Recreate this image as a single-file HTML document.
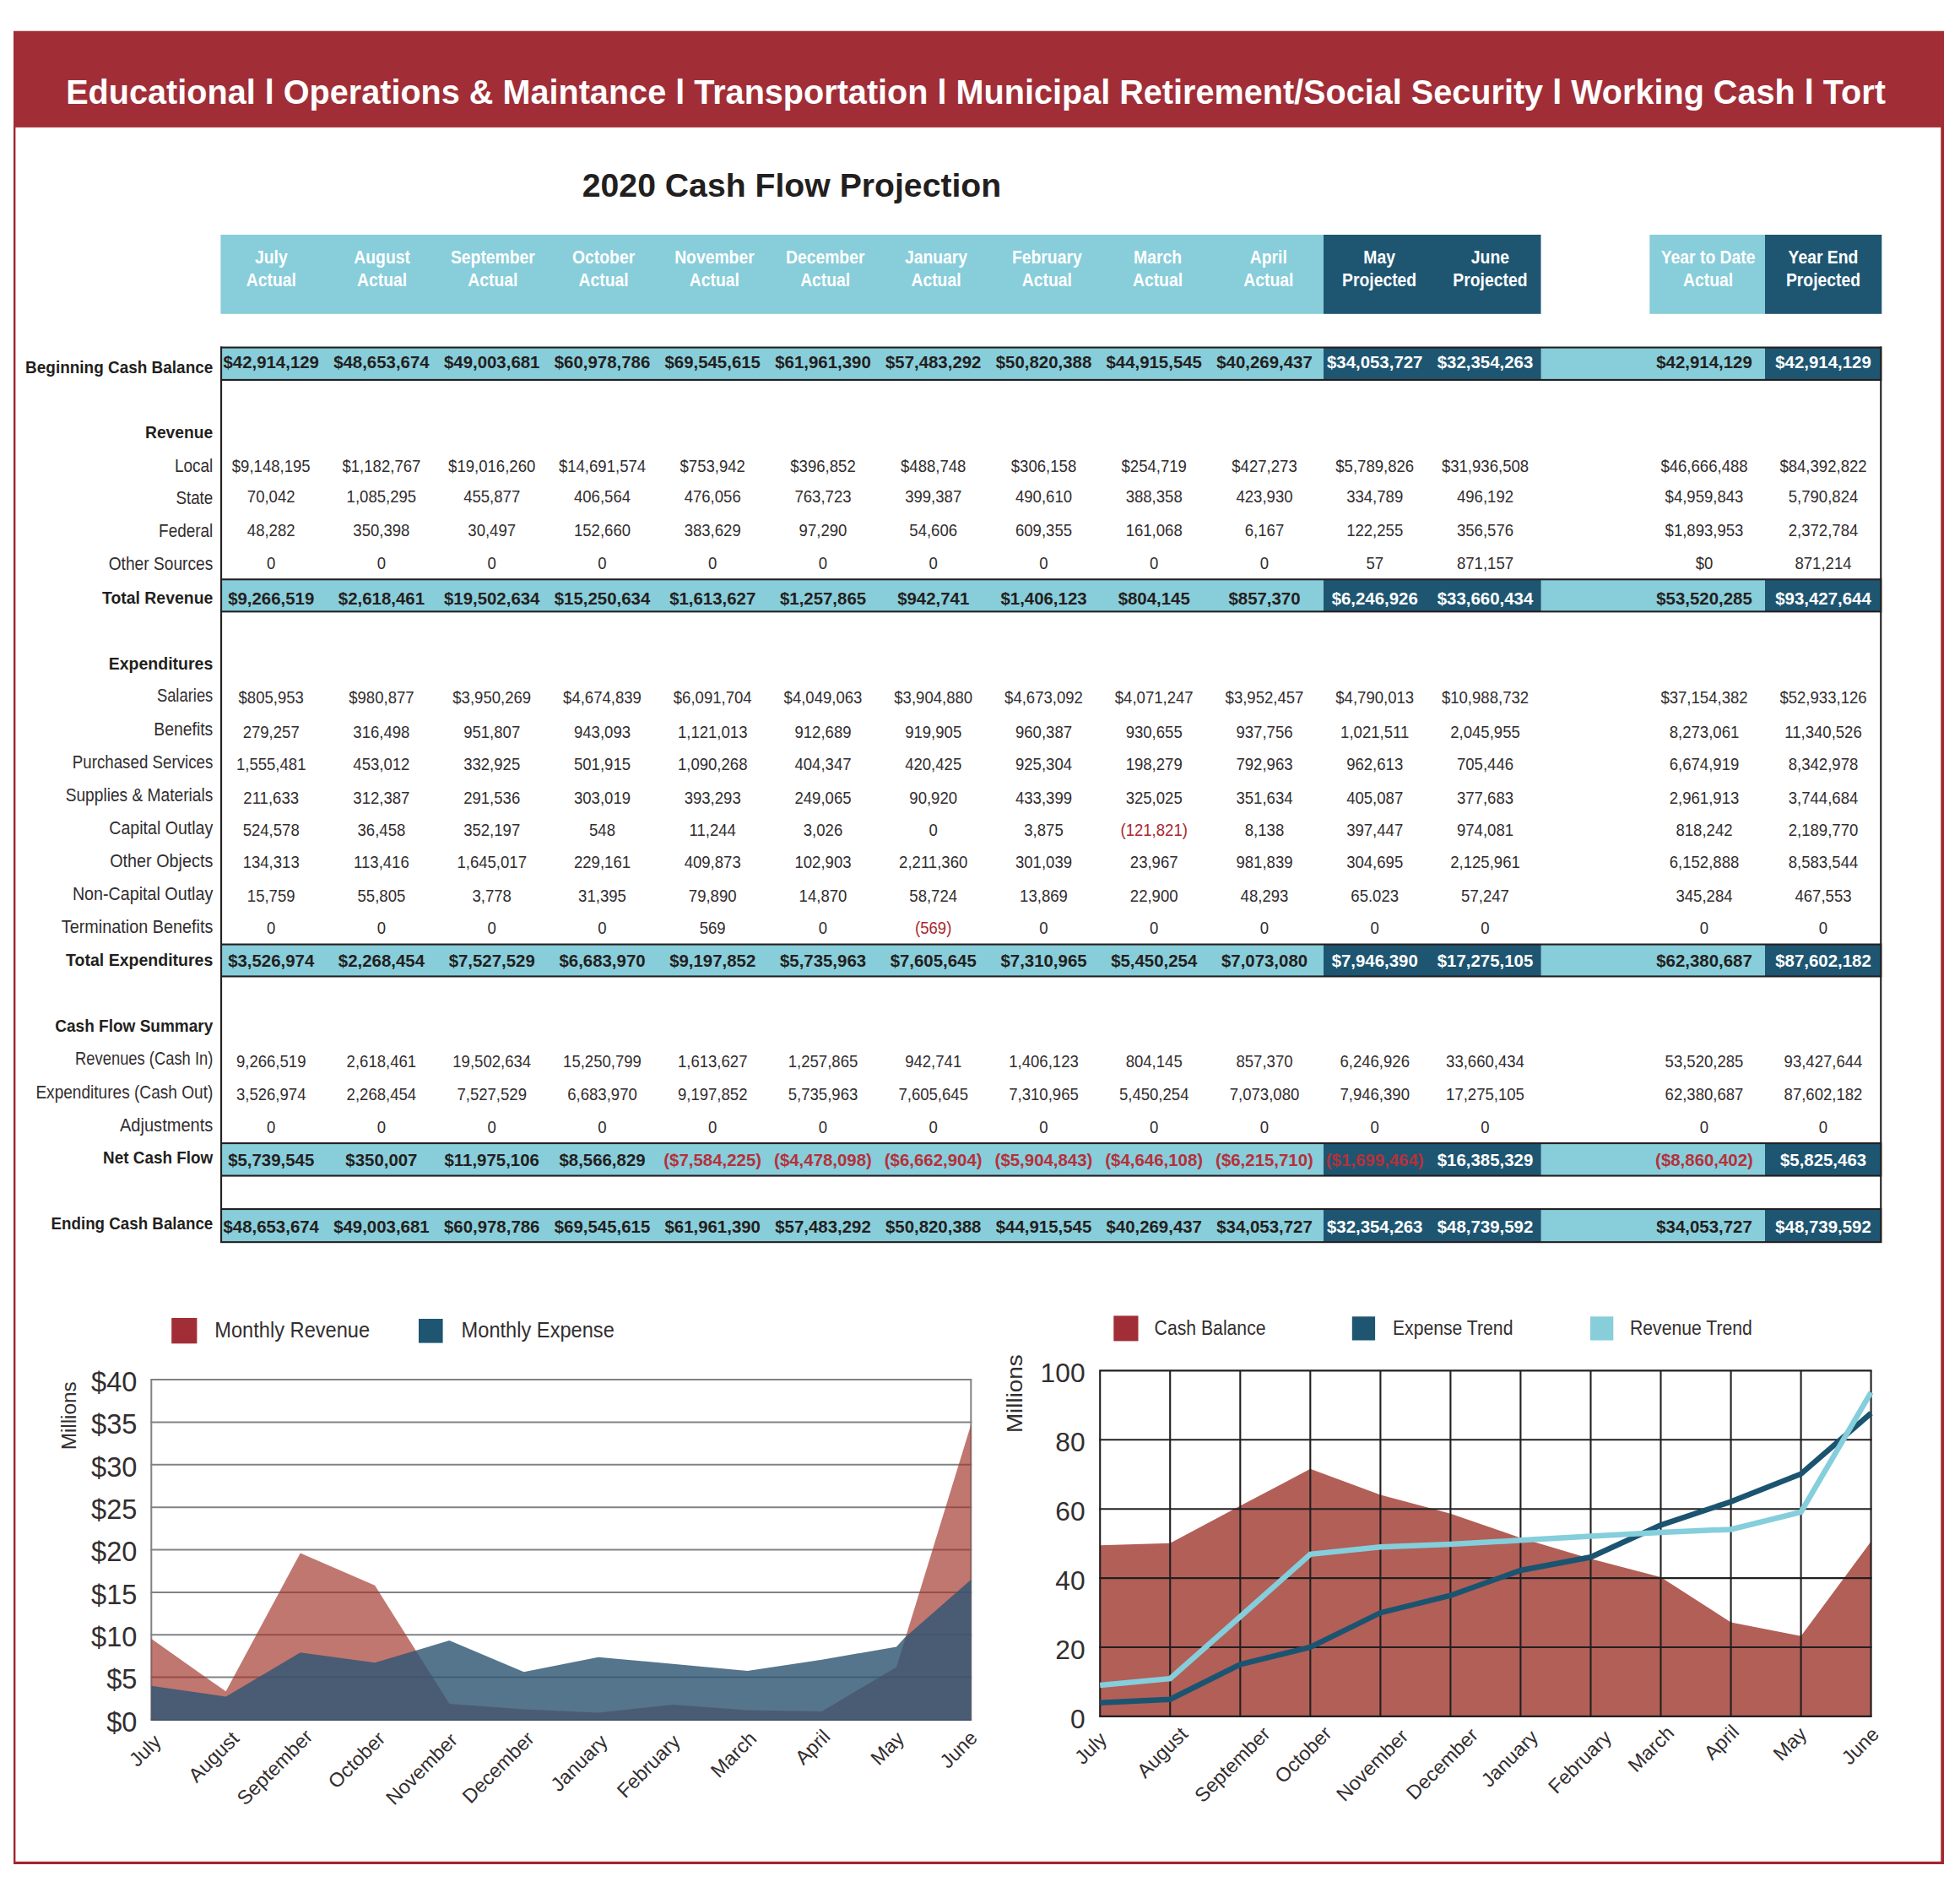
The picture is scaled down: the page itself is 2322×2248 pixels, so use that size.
<!DOCTYPE html>
<html lang="en"><head><meta charset="utf-8"><title>2020 Cash Flow Projection</title>
<style>
html,body{margin:0;padding:0;background:#fff}
body{width:2322px;height:2248px;overflow:hidden}
svg{display:block}
text{font-family:"Liberation Sans",sans-serif;fill:#231F20}
.ll,.vl,.lg1,.lg2,.y1,.y2,.mil1,.mil2,.xl,.xl2{fill:#322E2F}
.banner{font-weight:700;font-size:41.1px;fill:#fff}
.title{font-weight:700;font-size:38.2px}
.hd{font-weight:700;font-size:21.5px;fill:#fff}
.lb{font-weight:700;font-size:21.0px}
.ll{font-size:21.2px}
.vb{font-weight:700;font-size:20.1px}
.vl{font-size:20.4px}
.lg1{font-size:26.7px}
.lg2{font-size:24.4px}
.y1{font-size:33.4px}
.y2{font-size:30.5px}
.mil1{font-size:23.9px}
.mil2{font-size:26.1px}
.xl{font-size:23.5px}
.xl2{font-size:23.5px}
</style></head>
<body>
<svg width="2322" height="2248" viewBox="0 0 2322 2248">
<rect width="2322" height="2248" fill="#fff"/>
<g id="table">
<rect x="16" y="36.7" width="2287" height="114.2" fill="#A12E37"/>
<rect x="16" y="150" width="2.4" height="2058" fill="#A0282F"/>
<rect x="2299.3" y="150" width="3.7" height="2058" fill="#A0282F"/>
<rect x="16" y="2204.8" width="2287" height="3.2" fill="#A0282F"/>
<text class="banner" text-anchor="start" transform="translate(78.2,122.9) scale(0.964,1)">Educational l Operations &amp; Maintance l Transportation l Municipal Retirement/Social Security l Working Cash l Tort</text>
<text class="title" text-anchor="middle" transform="translate(938.0,233.4) scale(1.026,1)">2020 Cash Flow Projection</text>
<rect x="261.4" y="278" width="1306.6" height="93.8" fill="#88CDDA"/>
<rect x="1568" y="278" width="257.5" height="93.8" fill="#1E5672"/>
<rect x="1954.3" y="278" width="136.70000000000005" height="93.8" fill="#88CDDA"/>
<rect x="2091" y="278" width="138.30000000000018" height="93.8" fill="#1E5672"/>
<text class="hd" text-anchor="middle" transform="translate(321.3,311.7) scale(0.9,1)">July</text>
<text class="hd" text-anchor="middle" transform="translate(321.3,338.8) scale(0.9,1)">Actual</text>
<text class="hd" text-anchor="middle" transform="translate(452.6,311.7) scale(0.9,1)">August</text>
<text class="hd" text-anchor="middle" transform="translate(452.6,338.8) scale(0.9,1)">Actual</text>
<text class="hd" text-anchor="middle" transform="translate(583.9,311.7) scale(0.9,1)">September</text>
<text class="hd" text-anchor="middle" transform="translate(583.9,338.8) scale(0.9,1)">Actual</text>
<text class="hd" text-anchor="middle" transform="translate(715.1,311.7) scale(0.9,1)">October</text>
<text class="hd" text-anchor="middle" transform="translate(715.1,338.8) scale(0.9,1)">Actual</text>
<text class="hd" text-anchor="middle" transform="translate(846.4,311.7) scale(0.9,1)">November</text>
<text class="hd" text-anchor="middle" transform="translate(846.4,338.8) scale(0.9,1)">Actual</text>
<text class="hd" text-anchor="middle" transform="translate(977.7,311.7) scale(0.9,1)">December</text>
<text class="hd" text-anchor="middle" transform="translate(977.7,338.8) scale(0.9,1)">Actual</text>
<text class="hd" text-anchor="middle" transform="translate(1109.0,311.7) scale(0.9,1)">January</text>
<text class="hd" text-anchor="middle" transform="translate(1109.0,338.8) scale(0.9,1)">Actual</text>
<text class="hd" text-anchor="middle" transform="translate(1240.3,311.7) scale(0.9,1)">February</text>
<text class="hd" text-anchor="middle" transform="translate(1240.3,338.8) scale(0.9,1)">Actual</text>
<text class="hd" text-anchor="middle" transform="translate(1371.5,311.7) scale(0.9,1)">March</text>
<text class="hd" text-anchor="middle" transform="translate(1371.5,338.8) scale(0.9,1)">Actual</text>
<text class="hd" text-anchor="middle" transform="translate(1502.8,311.7) scale(0.9,1)">April</text>
<text class="hd" text-anchor="middle" transform="translate(1502.8,338.8) scale(0.9,1)">Actual</text>
<text class="hd" text-anchor="middle" transform="translate(1634.1,311.7) scale(0.9,1)">May</text>
<text class="hd" text-anchor="middle" transform="translate(1634.1,338.8) scale(0.9,1)">Projected</text>
<text class="hd" text-anchor="middle" transform="translate(1765.4,311.7) scale(0.9,1)">June</text>
<text class="hd" text-anchor="middle" transform="translate(1765.4,338.8) scale(0.9,1)">Projected</text>
<text class="hd" text-anchor="middle" transform="translate(2023.6,311.7) scale(0.9,1)">Year to Date</text>
<text class="hd" text-anchor="middle" transform="translate(2023.6,338.8) scale(0.9,1)">Actual</text>
<text class="hd" text-anchor="middle" transform="translate(2160.0,311.7) scale(0.9,1)">Year End</text>
<text class="hd" text-anchor="middle" transform="translate(2160.0,338.8) scale(0.9,1)">Projected</text>
<rect x="261.0" y="410.5" width="2.1" height="1061.5" fill="#231F20"/>
<rect x="2227.2000000000003" y="410.5" width="2.1" height="1061.5" fill="#231F20"/>
<rect x="261.0" y="410.5" width="1968.3000000000002" height="40.5" fill="#231F20"/>
<rect x="263.1" y="412.6" width="1304.9" height="36.3" fill="#88CDDA"/>
<rect x="1568" y="412.6" width="257.5" height="36.3" fill="#1E5672"/>
<rect x="1825.5" y="412.6" width="265.5" height="36.3" fill="#88CDDA"/>
<rect x="2091" y="412.6" width="136.2" height="36.3" fill="#1E5672"/>
<text class="lb" text-anchor="end" x="252.3" y="441.8" textLength="222.2" lengthAdjust="spacingAndGlyphs">Beginning Cash Balance</text>
<text class="vb" text-anchor="middle" transform="translate(321.2,436.4) scale(1.016,1)">$42,914,129</text>
<text class="vb" text-anchor="middle" transform="translate(451.9,436.4) scale(1.016,1)">$48,653,674</text>
<text class="vb" text-anchor="middle" transform="translate(582.7,436.4) scale(1.016,1)">$49,003,681</text>
<text class="vb" text-anchor="middle" transform="translate(713.5,436.4) scale(1.016,1)">$60,978,786</text>
<text class="vb" text-anchor="middle" transform="translate(844.2,436.4) scale(1.016,1)">$69,545,615</text>
<text class="vb" text-anchor="middle" transform="translate(975.0,436.4) scale(1.016,1)">$61,961,390</text>
<text class="vb" text-anchor="middle" transform="translate(1105.7,436.4) scale(1.016,1)">$57,483,292</text>
<text class="vb" text-anchor="middle" transform="translate(1236.5,436.4) scale(1.016,1)">$50,820,388</text>
<text class="vb" text-anchor="middle" transform="translate(1367.2,436.4) scale(1.016,1)">$44,915,545</text>
<text class="vb" text-anchor="middle" transform="translate(1498.0,436.4) scale(1.016,1)">$40,269,437</text>
<text class="vb" text-anchor="middle" transform="translate(1628.7,436.4) scale(1.016,1)" style="fill:#fff">$34,053,727</text>
<text class="vb" text-anchor="middle" transform="translate(1759.5,436.4) scale(1.016,1)" style="fill:#fff">$32,354,263</text>
<text class="vb" text-anchor="middle" transform="translate(2019.0,436.4) scale(1.016,1)">$42,914,129</text>
<text class="vb" text-anchor="middle" transform="translate(2160.0,436.4) scale(1.016,1)" style="fill:#fff">$42,914,129</text>
<text class="lb" text-anchor="end" x="252.3" y="519.3" textLength="80.3" lengthAdjust="spacingAndGlyphs">Revenue</text>
<text class="ll" text-anchor="end" x="252.3" y="558.6" textLength="45.4" lengthAdjust="spacingAndGlyphs">Local</text>
<text class="vl" text-anchor="middle" transform="translate(321.2,558.6) scale(0.91,1)">$9,148,195</text>
<text class="vl" text-anchor="middle" transform="translate(451.9,558.6) scale(0.91,1)">$1,182,767</text>
<text class="vl" text-anchor="middle" transform="translate(582.7,558.6) scale(0.91,1)">$19,016,260</text>
<text class="vl" text-anchor="middle" transform="translate(713.5,558.6) scale(0.91,1)">$14,691,574</text>
<text class="vl" text-anchor="middle" transform="translate(844.2,558.6) scale(0.91,1)">$753,942</text>
<text class="vl" text-anchor="middle" transform="translate(975.0,558.6) scale(0.91,1)">$396,852</text>
<text class="vl" text-anchor="middle" transform="translate(1105.7,558.6) scale(0.91,1)">$488,748</text>
<text class="vl" text-anchor="middle" transform="translate(1236.5,558.6) scale(0.91,1)">$306,158</text>
<text class="vl" text-anchor="middle" transform="translate(1367.2,558.6) scale(0.91,1)">$254,719</text>
<text class="vl" text-anchor="middle" transform="translate(1498.0,558.6) scale(0.91,1)">$427,273</text>
<text class="vl" text-anchor="middle" transform="translate(1628.7,558.6) scale(0.91,1)">$5,789,826</text>
<text class="vl" text-anchor="middle" transform="translate(1759.5,558.6) scale(0.91,1)">$31,936,508</text>
<text class="vl" text-anchor="middle" transform="translate(2019.0,558.6) scale(0.91,1)">$46,666,488</text>
<text class="vl" text-anchor="middle" transform="translate(2160.0,558.6) scale(0.91,1)">$84,392,822</text>
<text class="ll" text-anchor="end" x="252.3" y="596.7" textLength="43.9" lengthAdjust="spacingAndGlyphs">State</text>
<text class="vl" text-anchor="middle" transform="translate(321.2,595.4) scale(0.91,1)">70,042</text>
<text class="vl" text-anchor="middle" transform="translate(451.9,595.4) scale(0.91,1)">1,085,295</text>
<text class="vl" text-anchor="middle" transform="translate(582.7,595.4) scale(0.91,1)">455,877</text>
<text class="vl" text-anchor="middle" transform="translate(713.5,595.4) scale(0.91,1)">406,564</text>
<text class="vl" text-anchor="middle" transform="translate(844.2,595.4) scale(0.91,1)">476,056</text>
<text class="vl" text-anchor="middle" transform="translate(975.0,595.4) scale(0.91,1)">763,723</text>
<text class="vl" text-anchor="middle" transform="translate(1105.7,595.4) scale(0.91,1)">399,387</text>
<text class="vl" text-anchor="middle" transform="translate(1236.5,595.4) scale(0.91,1)">490,610</text>
<text class="vl" text-anchor="middle" transform="translate(1367.2,595.4) scale(0.91,1)">388,358</text>
<text class="vl" text-anchor="middle" transform="translate(1498.0,595.4) scale(0.91,1)">423,930</text>
<text class="vl" text-anchor="middle" transform="translate(1628.7,595.4) scale(0.91,1)">334,789</text>
<text class="vl" text-anchor="middle" transform="translate(1759.5,595.4) scale(0.91,1)">496,192</text>
<text class="vl" text-anchor="middle" transform="translate(2019.0,595.4) scale(0.91,1)">$4,959,843</text>
<text class="vl" text-anchor="middle" transform="translate(2160.0,595.4) scale(0.91,1)">5,790,824</text>
<text class="ll" text-anchor="end" x="252.3" y="636.1" textLength="64.2" lengthAdjust="spacingAndGlyphs">Federal</text>
<text class="vl" text-anchor="middle" transform="translate(321.2,635.0) scale(0.91,1)">48,282</text>
<text class="vl" text-anchor="middle" transform="translate(451.9,635.0) scale(0.91,1)">350,398</text>
<text class="vl" text-anchor="middle" transform="translate(582.7,635.0) scale(0.91,1)">30,497</text>
<text class="vl" text-anchor="middle" transform="translate(713.5,635.0) scale(0.91,1)">152,660</text>
<text class="vl" text-anchor="middle" transform="translate(844.2,635.0) scale(0.91,1)">383,629</text>
<text class="vl" text-anchor="middle" transform="translate(975.0,635.0) scale(0.91,1)">97,290</text>
<text class="vl" text-anchor="middle" transform="translate(1105.7,635.0) scale(0.91,1)">54,606</text>
<text class="vl" text-anchor="middle" transform="translate(1236.5,635.0) scale(0.91,1)">609,355</text>
<text class="vl" text-anchor="middle" transform="translate(1367.2,635.0) scale(0.91,1)">161,068</text>
<text class="vl" text-anchor="middle" transform="translate(1498.0,635.0) scale(0.91,1)">6,167</text>
<text class="vl" text-anchor="middle" transform="translate(1628.7,635.0) scale(0.91,1)">122,255</text>
<text class="vl" text-anchor="middle" transform="translate(1759.5,635.0) scale(0.91,1)">356,576</text>
<text class="vl" text-anchor="middle" transform="translate(2019.0,635.0) scale(0.91,1)">$1,893,953</text>
<text class="vl" text-anchor="middle" transform="translate(2160.0,635.0) scale(0.91,1)">2,372,784</text>
<text class="ll" text-anchor="end" x="252.3" y="675.2" textLength="123.6" lengthAdjust="spacingAndGlyphs">Other Sources</text>
<text class="vl" text-anchor="middle" transform="translate(321.2,674.3) scale(0.91,1)">0</text>
<text class="vl" text-anchor="middle" transform="translate(451.9,674.3) scale(0.91,1)">0</text>
<text class="vl" text-anchor="middle" transform="translate(582.7,674.3) scale(0.91,1)">0</text>
<text class="vl" text-anchor="middle" transform="translate(713.5,674.3) scale(0.91,1)">0</text>
<text class="vl" text-anchor="middle" transform="translate(844.2,674.3) scale(0.91,1)">0</text>
<text class="vl" text-anchor="middle" transform="translate(975.0,674.3) scale(0.91,1)">0</text>
<text class="vl" text-anchor="middle" transform="translate(1105.7,674.3) scale(0.91,1)">0</text>
<text class="vl" text-anchor="middle" transform="translate(1236.5,674.3) scale(0.91,1)">0</text>
<text class="vl" text-anchor="middle" transform="translate(1367.2,674.3) scale(0.91,1)">0</text>
<text class="vl" text-anchor="middle" transform="translate(1498.0,674.3) scale(0.91,1)">0</text>
<text class="vl" text-anchor="middle" transform="translate(1628.7,674.3) scale(0.91,1)">57</text>
<text class="vl" text-anchor="middle" transform="translate(1759.5,674.3) scale(0.91,1)">871,157</text>
<text class="vl" text-anchor="middle" transform="translate(2019.0,674.3) scale(0.91,1)">$0</text>
<text class="vl" text-anchor="middle" transform="translate(2160.0,674.3) scale(0.91,1)">871,214</text>
<rect x="261.0" y="685.2" width="1968.3000000000002" height="40.19999999999993" fill="#231F20"/>
<rect x="263.1" y="687.3000000000001" width="1304.9" height="36.0" fill="#88CDDA"/>
<rect x="1568" y="687.3000000000001" width="257.5" height="36.0" fill="#1E5672"/>
<rect x="1825.5" y="687.3000000000001" width="265.5" height="36.0" fill="#88CDDA"/>
<rect x="2091" y="687.3000000000001" width="136.2" height="36.0" fill="#1E5672"/>
<text class="lb" text-anchor="end" x="252.3" y="714.6" textLength="131.3" lengthAdjust="spacingAndGlyphs">Total Revenue</text>
<text class="vb" text-anchor="middle" transform="translate(321.2,716.1) scale(1.016,1)">$9,266,519</text>
<text class="vb" text-anchor="middle" transform="translate(451.9,716.1) scale(1.016,1)">$2,618,461</text>
<text class="vb" text-anchor="middle" transform="translate(582.7,716.1) scale(1.016,1)">$19,502,634</text>
<text class="vb" text-anchor="middle" transform="translate(713.5,716.1) scale(1.016,1)">$15,250,634</text>
<text class="vb" text-anchor="middle" transform="translate(844.2,716.1) scale(1.016,1)">$1,613,627</text>
<text class="vb" text-anchor="middle" transform="translate(975.0,716.1) scale(1.016,1)">$1,257,865</text>
<text class="vb" text-anchor="middle" transform="translate(1105.7,716.1) scale(1.016,1)">$942,741</text>
<text class="vb" text-anchor="middle" transform="translate(1236.5,716.1) scale(1.016,1)">$1,406,123</text>
<text class="vb" text-anchor="middle" transform="translate(1367.2,716.1) scale(1.016,1)">$804,145</text>
<text class="vb" text-anchor="middle" transform="translate(1498.0,716.1) scale(1.016,1)">$857,370</text>
<text class="vb" text-anchor="middle" transform="translate(1628.7,716.1) scale(1.016,1)" style="fill:#fff">$6,246,926</text>
<text class="vb" text-anchor="middle" transform="translate(1759.5,716.1) scale(1.016,1)" style="fill:#fff">$33,660,434</text>
<text class="vb" text-anchor="middle" transform="translate(2019.0,716.1) scale(1.016,1)">$53,520,285</text>
<text class="vb" text-anchor="middle" transform="translate(2160.0,716.1) scale(1.016,1)" style="fill:#fff">$93,427,644</text>
<text class="lb" text-anchor="end" x="252.3" y="792.8" textLength="123.6" lengthAdjust="spacingAndGlyphs">Expenditures</text>
<text class="ll" text-anchor="end" x="252.3" y="831.4" textLength="66.4" lengthAdjust="spacingAndGlyphs">Salaries</text>
<text class="vl" text-anchor="middle" transform="translate(321.2,833.1) scale(0.91,1)">$805,953</text>
<text class="vl" text-anchor="middle" transform="translate(451.9,833.1) scale(0.91,1)">$980,877</text>
<text class="vl" text-anchor="middle" transform="translate(582.7,833.1) scale(0.91,1)">$3,950,269</text>
<text class="vl" text-anchor="middle" transform="translate(713.5,833.1) scale(0.91,1)">$4,674,839</text>
<text class="vl" text-anchor="middle" transform="translate(844.2,833.1) scale(0.91,1)">$6,091,704</text>
<text class="vl" text-anchor="middle" transform="translate(975.0,833.1) scale(0.91,1)">$4,049,063</text>
<text class="vl" text-anchor="middle" transform="translate(1105.7,833.1) scale(0.91,1)">$3,904,880</text>
<text class="vl" text-anchor="middle" transform="translate(1236.5,833.1) scale(0.91,1)">$4,673,092</text>
<text class="vl" text-anchor="middle" transform="translate(1367.2,833.1) scale(0.91,1)">$4,071,247</text>
<text class="vl" text-anchor="middle" transform="translate(1498.0,833.1) scale(0.91,1)">$3,952,457</text>
<text class="vl" text-anchor="middle" transform="translate(1628.7,833.1) scale(0.91,1)">$4,790,013</text>
<text class="vl" text-anchor="middle" transform="translate(1759.5,833.1) scale(0.91,1)">$10,988,732</text>
<text class="vl" text-anchor="middle" transform="translate(2019.0,833.1) scale(0.91,1)">$37,154,382</text>
<text class="vl" text-anchor="middle" transform="translate(2160.0,833.1) scale(0.91,1)">$52,933,126</text>
<text class="ll" text-anchor="end" x="252.3" y="871.0" textLength="70.0" lengthAdjust="spacingAndGlyphs">Benefits</text>
<text class="vl" text-anchor="middle" transform="translate(321.2,873.6) scale(0.91,1)">279,257</text>
<text class="vl" text-anchor="middle" transform="translate(451.9,873.6) scale(0.91,1)">316,498</text>
<text class="vl" text-anchor="middle" transform="translate(582.7,873.6) scale(0.91,1)">951,807</text>
<text class="vl" text-anchor="middle" transform="translate(713.5,873.6) scale(0.91,1)">943,093</text>
<text class="vl" text-anchor="middle" transform="translate(844.2,873.6) scale(0.91,1)">1,121,013</text>
<text class="vl" text-anchor="middle" transform="translate(975.0,873.6) scale(0.91,1)">912,689</text>
<text class="vl" text-anchor="middle" transform="translate(1105.7,873.6) scale(0.91,1)">919,905</text>
<text class="vl" text-anchor="middle" transform="translate(1236.5,873.6) scale(0.91,1)">960,387</text>
<text class="vl" text-anchor="middle" transform="translate(1367.2,873.6) scale(0.91,1)">930,655</text>
<text class="vl" text-anchor="middle" transform="translate(1498.0,873.6) scale(0.91,1)">937,756</text>
<text class="vl" text-anchor="middle" transform="translate(1628.7,873.6) scale(0.91,1)">1,021,511</text>
<text class="vl" text-anchor="middle" transform="translate(1759.5,873.6) scale(0.91,1)">2,045,955</text>
<text class="vl" text-anchor="middle" transform="translate(2019.0,873.6) scale(0.91,1)">8,273,061</text>
<text class="vl" text-anchor="middle" transform="translate(2160.0,873.6) scale(0.91,1)">11,340,526</text>
<text class="ll" text-anchor="end" x="252.3" y="909.6" textLength="166.5" lengthAdjust="spacingAndGlyphs">Purchased Services</text>
<text class="vl" text-anchor="middle" transform="translate(321.2,911.8) scale(0.91,1)">1,555,481</text>
<text class="vl" text-anchor="middle" transform="translate(451.9,911.8) scale(0.91,1)">453,012</text>
<text class="vl" text-anchor="middle" transform="translate(582.7,911.8) scale(0.91,1)">332,925</text>
<text class="vl" text-anchor="middle" transform="translate(713.5,911.8) scale(0.91,1)">501,915</text>
<text class="vl" text-anchor="middle" transform="translate(844.2,911.8) scale(0.91,1)">1,090,268</text>
<text class="vl" text-anchor="middle" transform="translate(975.0,911.8) scale(0.91,1)">404,347</text>
<text class="vl" text-anchor="middle" transform="translate(1105.7,911.8) scale(0.91,1)">420,425</text>
<text class="vl" text-anchor="middle" transform="translate(1236.5,911.8) scale(0.91,1)">925,304</text>
<text class="vl" text-anchor="middle" transform="translate(1367.2,911.8) scale(0.91,1)">198,279</text>
<text class="vl" text-anchor="middle" transform="translate(1498.0,911.8) scale(0.91,1)">792,963</text>
<text class="vl" text-anchor="middle" transform="translate(1628.7,911.8) scale(0.91,1)">962,613</text>
<text class="vl" text-anchor="middle" transform="translate(1759.5,911.8) scale(0.91,1)">705,446</text>
<text class="vl" text-anchor="middle" transform="translate(2019.0,911.8) scale(0.91,1)">6,674,919</text>
<text class="vl" text-anchor="middle" transform="translate(2160.0,911.8) scale(0.91,1)">8,342,978</text>
<text class="ll" text-anchor="end" x="252.3" y="948.9" textLength="174.6" lengthAdjust="spacingAndGlyphs">Supplies &amp; Materials</text>
<text class="vl" text-anchor="middle" transform="translate(321.2,952.1) scale(0.91,1)">211,633</text>
<text class="vl" text-anchor="middle" transform="translate(451.9,952.1) scale(0.91,1)">312,387</text>
<text class="vl" text-anchor="middle" transform="translate(582.7,952.1) scale(0.91,1)">291,536</text>
<text class="vl" text-anchor="middle" transform="translate(713.5,952.1) scale(0.91,1)">303,019</text>
<text class="vl" text-anchor="middle" transform="translate(844.2,952.1) scale(0.91,1)">393,293</text>
<text class="vl" text-anchor="middle" transform="translate(975.0,952.1) scale(0.91,1)">249,065</text>
<text class="vl" text-anchor="middle" transform="translate(1105.7,952.1) scale(0.91,1)">90,920</text>
<text class="vl" text-anchor="middle" transform="translate(1236.5,952.1) scale(0.91,1)">433,399</text>
<text class="vl" text-anchor="middle" transform="translate(1367.2,952.1) scale(0.91,1)">325,025</text>
<text class="vl" text-anchor="middle" transform="translate(1498.0,952.1) scale(0.91,1)">351,634</text>
<text class="vl" text-anchor="middle" transform="translate(1628.7,952.1) scale(0.91,1)">405,087</text>
<text class="vl" text-anchor="middle" transform="translate(1759.5,952.1) scale(0.91,1)">377,683</text>
<text class="vl" text-anchor="middle" transform="translate(2019.0,952.1) scale(0.91,1)">2,961,913</text>
<text class="vl" text-anchor="middle" transform="translate(2160.0,952.1) scale(0.91,1)">3,744,684</text>
<text class="ll" text-anchor="end" x="252.3" y="987.9" textLength="123.0" lengthAdjust="spacingAndGlyphs">Capital Outlay</text>
<text class="vl" text-anchor="middle" transform="translate(321.2,990.3) scale(0.91,1)">524,578</text>
<text class="vl" text-anchor="middle" transform="translate(451.9,990.3) scale(0.91,1)">36,458</text>
<text class="vl" text-anchor="middle" transform="translate(582.7,990.3) scale(0.91,1)">352,197</text>
<text class="vl" text-anchor="middle" transform="translate(713.5,990.3) scale(0.91,1)">548</text>
<text class="vl" text-anchor="middle" transform="translate(844.2,990.3) scale(0.91,1)">11,244</text>
<text class="vl" text-anchor="middle" transform="translate(975.0,990.3) scale(0.91,1)">3,026</text>
<text class="vl" text-anchor="middle" transform="translate(1105.7,990.3) scale(0.91,1)">0</text>
<text class="vl" text-anchor="middle" transform="translate(1236.5,990.3) scale(0.91,1)">3,875</text>
<text class="vl" text-anchor="middle" transform="translate(1367.2,990.3) scale(0.91,1)" style="fill:#A9282F">(121,821)</text>
<text class="vl" text-anchor="middle" transform="translate(1498.0,990.3) scale(0.91,1)">8,138</text>
<text class="vl" text-anchor="middle" transform="translate(1628.7,990.3) scale(0.91,1)">397,447</text>
<text class="vl" text-anchor="middle" transform="translate(1759.5,990.3) scale(0.91,1)">974,081</text>
<text class="vl" text-anchor="middle" transform="translate(2019.0,990.3) scale(0.91,1)">818,242</text>
<text class="vl" text-anchor="middle" transform="translate(2160.0,990.3) scale(0.91,1)">2,189,770</text>
<text class="ll" text-anchor="end" x="252.3" y="1026.5" textLength="122.1" lengthAdjust="spacingAndGlyphs">Other Objects</text>
<text class="vl" text-anchor="middle" transform="translate(321.2,1027.8) scale(0.91,1)">134,313</text>
<text class="vl" text-anchor="middle" transform="translate(451.9,1027.8) scale(0.91,1)">113,416</text>
<text class="vl" text-anchor="middle" transform="translate(582.7,1027.8) scale(0.91,1)">1,645,017</text>
<text class="vl" text-anchor="middle" transform="translate(713.5,1027.8) scale(0.91,1)">229,161</text>
<text class="vl" text-anchor="middle" transform="translate(844.2,1027.8) scale(0.91,1)">409,873</text>
<text class="vl" text-anchor="middle" transform="translate(975.0,1027.8) scale(0.91,1)">102,903</text>
<text class="vl" text-anchor="middle" transform="translate(1105.7,1027.8) scale(0.91,1)">2,211,360</text>
<text class="vl" text-anchor="middle" transform="translate(1236.5,1027.8) scale(0.91,1)">301,039</text>
<text class="vl" text-anchor="middle" transform="translate(1367.2,1027.8) scale(0.91,1)">23,967</text>
<text class="vl" text-anchor="middle" transform="translate(1498.0,1027.8) scale(0.91,1)">981,839</text>
<text class="vl" text-anchor="middle" transform="translate(1628.7,1027.8) scale(0.91,1)">304,695</text>
<text class="vl" text-anchor="middle" transform="translate(1759.5,1027.8) scale(0.91,1)">2,125,961</text>
<text class="vl" text-anchor="middle" transform="translate(2019.0,1027.8) scale(0.91,1)">6,152,888</text>
<text class="vl" text-anchor="middle" transform="translate(2160.0,1027.8) scale(0.91,1)">8,583,544</text>
<text class="ll" text-anchor="end" x="252.3" y="1066.1" textLength="166.4" lengthAdjust="spacingAndGlyphs">Non-Capital Outlay</text>
<text class="vl" text-anchor="middle" transform="translate(321.2,1068.3) scale(0.91,1)">15,759</text>
<text class="vl" text-anchor="middle" transform="translate(451.9,1068.3) scale(0.91,1)">55,805</text>
<text class="vl" text-anchor="middle" transform="translate(582.7,1068.3) scale(0.91,1)">3,778</text>
<text class="vl" text-anchor="middle" transform="translate(713.5,1068.3) scale(0.91,1)">31,395</text>
<text class="vl" text-anchor="middle" transform="translate(844.2,1068.3) scale(0.91,1)">79,890</text>
<text class="vl" text-anchor="middle" transform="translate(975.0,1068.3) scale(0.91,1)">14,870</text>
<text class="vl" text-anchor="middle" transform="translate(1105.7,1068.3) scale(0.91,1)">58,724</text>
<text class="vl" text-anchor="middle" transform="translate(1236.5,1068.3) scale(0.91,1)">13,869</text>
<text class="vl" text-anchor="middle" transform="translate(1367.2,1068.3) scale(0.91,1)">22,900</text>
<text class="vl" text-anchor="middle" transform="translate(1498.0,1068.3) scale(0.91,1)">48,293</text>
<text class="vl" text-anchor="middle" transform="translate(1628.7,1068.3) scale(0.91,1)">65.023</text>
<text class="vl" text-anchor="middle" transform="translate(1759.5,1068.3) scale(0.91,1)">57,247</text>
<text class="vl" text-anchor="middle" transform="translate(2019.0,1068.3) scale(0.91,1)">345,284</text>
<text class="vl" text-anchor="middle" transform="translate(2160.0,1068.3) scale(0.91,1)">467,553</text>
<text class="ll" text-anchor="end" x="252.3" y="1104.7" textLength="179.5" lengthAdjust="spacingAndGlyphs">Termination Benefits</text>
<text class="vl" text-anchor="middle" transform="translate(321.2,1106.4) scale(0.91,1)">0</text>
<text class="vl" text-anchor="middle" transform="translate(451.9,1106.4) scale(0.91,1)">0</text>
<text class="vl" text-anchor="middle" transform="translate(582.7,1106.4) scale(0.91,1)">0</text>
<text class="vl" text-anchor="middle" transform="translate(713.5,1106.4) scale(0.91,1)">0</text>
<text class="vl" text-anchor="middle" transform="translate(844.2,1106.4) scale(0.91,1)">569</text>
<text class="vl" text-anchor="middle" transform="translate(975.0,1106.4) scale(0.91,1)">0</text>
<text class="vl" text-anchor="middle" transform="translate(1105.7,1106.4) scale(0.91,1)" style="fill:#A9282F">(569)</text>
<text class="vl" text-anchor="middle" transform="translate(1236.5,1106.4) scale(0.91,1)">0</text>
<text class="vl" text-anchor="middle" transform="translate(1367.2,1106.4) scale(0.91,1)">0</text>
<text class="vl" text-anchor="middle" transform="translate(1498.0,1106.4) scale(0.91,1)">0</text>
<text class="vl" text-anchor="middle" transform="translate(1628.7,1106.4) scale(0.91,1)">0</text>
<text class="vl" text-anchor="middle" transform="translate(1759.5,1106.4) scale(0.91,1)">0</text>
<text class="vl" text-anchor="middle" transform="translate(2019.0,1106.4) scale(0.91,1)">0</text>
<text class="vl" text-anchor="middle" transform="translate(2160.0,1106.4) scale(0.91,1)">0</text>
<rect x="261.0" y="1117.5" width="1968.3000000000002" height="40.0" fill="#231F20"/>
<rect x="263.1" y="1119.6" width="1304.9" height="35.8" fill="#88CDDA"/>
<rect x="1568" y="1119.6" width="257.5" height="35.8" fill="#1E5672"/>
<rect x="1825.5" y="1119.6" width="265.5" height="35.8" fill="#88CDDA"/>
<rect x="2091" y="1119.6" width="136.2" height="35.8" fill="#1E5672"/>
<text class="lb" text-anchor="end" x="252.3" y="1143.9" textLength="174.2" lengthAdjust="spacingAndGlyphs">Total Expenditures</text>
<text class="vb" text-anchor="middle" transform="translate(321.2,1145.4) scale(1.016,1)">$3,526,974</text>
<text class="vb" text-anchor="middle" transform="translate(451.9,1145.4) scale(1.016,1)">$2,268,454</text>
<text class="vb" text-anchor="middle" transform="translate(582.7,1145.4) scale(1.016,1)">$7,527,529</text>
<text class="vb" text-anchor="middle" transform="translate(713.5,1145.4) scale(1.016,1)">$6,683,970</text>
<text class="vb" text-anchor="middle" transform="translate(844.2,1145.4) scale(1.016,1)">$9,197,852</text>
<text class="vb" text-anchor="middle" transform="translate(975.0,1145.4) scale(1.016,1)">$5,735,963</text>
<text class="vb" text-anchor="middle" transform="translate(1105.7,1145.4) scale(1.016,1)">$7,605,645</text>
<text class="vb" text-anchor="middle" transform="translate(1236.5,1145.4) scale(1.016,1)">$7,310,965</text>
<text class="vb" text-anchor="middle" transform="translate(1367.2,1145.4) scale(1.016,1)">$5,450,254</text>
<text class="vb" text-anchor="middle" transform="translate(1498.0,1145.4) scale(1.016,1)">$7,073,080</text>
<text class="vb" text-anchor="middle" transform="translate(1628.7,1145.4) scale(1.016,1)" style="fill:#fff">$7,946,390</text>
<text class="vb" text-anchor="middle" transform="translate(1759.5,1145.4) scale(1.016,1)" style="fill:#fff">$17,275,105</text>
<text class="vb" text-anchor="middle" transform="translate(2019.0,1145.4) scale(1.016,1)">$62,380,687</text>
<text class="vb" text-anchor="middle" transform="translate(2160.0,1145.4) scale(1.016,1)" style="fill:#fff">$87,602,182</text>
<text class="lb" text-anchor="end" x="252.3" y="1221.8" textLength="187.0" lengthAdjust="spacingAndGlyphs">Cash Flow Summary</text>
<text class="ll" text-anchor="end" x="252.3" y="1261.4" textLength="163.2" lengthAdjust="spacingAndGlyphs">Revenues (Cash In)</text>
<text class="vl" text-anchor="middle" transform="translate(321.2,1264.0) scale(0.91,1)">9,266,519</text>
<text class="vl" text-anchor="middle" transform="translate(451.9,1264.0) scale(0.91,1)">2,618,461</text>
<text class="vl" text-anchor="middle" transform="translate(582.7,1264.0) scale(0.91,1)">19,502,634</text>
<text class="vl" text-anchor="middle" transform="translate(713.5,1264.0) scale(0.91,1)">15,250,799</text>
<text class="vl" text-anchor="middle" transform="translate(844.2,1264.0) scale(0.91,1)">1,613,627</text>
<text class="vl" text-anchor="middle" transform="translate(975.0,1264.0) scale(0.91,1)">1,257,865</text>
<text class="vl" text-anchor="middle" transform="translate(1105.7,1264.0) scale(0.91,1)">942,741</text>
<text class="vl" text-anchor="middle" transform="translate(1236.5,1264.0) scale(0.91,1)">1,406,123</text>
<text class="vl" text-anchor="middle" transform="translate(1367.2,1264.0) scale(0.91,1)">804,145</text>
<text class="vl" text-anchor="middle" transform="translate(1498.0,1264.0) scale(0.91,1)">857,370</text>
<text class="vl" text-anchor="middle" transform="translate(1628.7,1264.0) scale(0.91,1)">6,246,926</text>
<text class="vl" text-anchor="middle" transform="translate(1759.5,1264.0) scale(0.91,1)">33,660,434</text>
<text class="vl" text-anchor="middle" transform="translate(2019.0,1264.0) scale(0.91,1)">53,520,285</text>
<text class="vl" text-anchor="middle" transform="translate(2160.0,1264.0) scale(0.91,1)">93,427,644</text>
<text class="ll" text-anchor="end" x="252.3" y="1300.6" textLength="209.9" lengthAdjust="spacingAndGlyphs">Expenditures (Cash Out)</text>
<text class="vl" text-anchor="middle" transform="translate(321.2,1303.2) scale(0.91,1)">3,526,974</text>
<text class="vl" text-anchor="middle" transform="translate(451.9,1303.2) scale(0.91,1)">2,268,454</text>
<text class="vl" text-anchor="middle" transform="translate(582.7,1303.2) scale(0.91,1)">7,527,529</text>
<text class="vl" text-anchor="middle" transform="translate(713.5,1303.2) scale(0.91,1)">6,683,970</text>
<text class="vl" text-anchor="middle" transform="translate(844.2,1303.2) scale(0.91,1)">9,197,852</text>
<text class="vl" text-anchor="middle" transform="translate(975.0,1303.2) scale(0.91,1)">5,735,963</text>
<text class="vl" text-anchor="middle" transform="translate(1105.7,1303.2) scale(0.91,1)">7,605,645</text>
<text class="vl" text-anchor="middle" transform="translate(1236.5,1303.2) scale(0.91,1)">7,310,965</text>
<text class="vl" text-anchor="middle" transform="translate(1367.2,1303.2) scale(0.91,1)">5,450,254</text>
<text class="vl" text-anchor="middle" transform="translate(1498.0,1303.2) scale(0.91,1)">7,073,080</text>
<text class="vl" text-anchor="middle" transform="translate(1628.7,1303.2) scale(0.91,1)">7,946,390</text>
<text class="vl" text-anchor="middle" transform="translate(1759.5,1303.2) scale(0.91,1)">17,275,105</text>
<text class="vl" text-anchor="middle" transform="translate(2019.0,1303.2) scale(0.91,1)">62,380,687</text>
<text class="vl" text-anchor="middle" transform="translate(2160.0,1303.2) scale(0.91,1)">87,602,182</text>
<text class="ll" text-anchor="end" x="252.3" y="1339.6" textLength="110.3" lengthAdjust="spacingAndGlyphs">Adjustments</text>
<text class="vl" text-anchor="middle" transform="translate(321.2,1342.2) scale(0.91,1)">0</text>
<text class="vl" text-anchor="middle" transform="translate(451.9,1342.2) scale(0.91,1)">0</text>
<text class="vl" text-anchor="middle" transform="translate(582.7,1342.2) scale(0.91,1)">0</text>
<text class="vl" text-anchor="middle" transform="translate(713.5,1342.2) scale(0.91,1)">0</text>
<text class="vl" text-anchor="middle" transform="translate(844.2,1342.2) scale(0.91,1)">0</text>
<text class="vl" text-anchor="middle" transform="translate(975.0,1342.2) scale(0.91,1)">0</text>
<text class="vl" text-anchor="middle" transform="translate(1105.7,1342.2) scale(0.91,1)">0</text>
<text class="vl" text-anchor="middle" transform="translate(1236.5,1342.2) scale(0.91,1)">0</text>
<text class="vl" text-anchor="middle" transform="translate(1367.2,1342.2) scale(0.91,1)">0</text>
<text class="vl" text-anchor="middle" transform="translate(1498.0,1342.2) scale(0.91,1)">0</text>
<text class="vl" text-anchor="middle" transform="translate(1628.7,1342.2) scale(0.91,1)">0</text>
<text class="vl" text-anchor="middle" transform="translate(1759.5,1342.2) scale(0.91,1)">0</text>
<text class="vl" text-anchor="middle" transform="translate(2019.0,1342.2) scale(0.91,1)">0</text>
<text class="vl" text-anchor="middle" transform="translate(2160.0,1342.2) scale(0.91,1)">0</text>
<rect x="261.0" y="1353.0" width="1968.3000000000002" height="40.59999999999991" fill="#231F20"/>
<rect x="263.1" y="1355.1" width="1304.9" height="36.4" fill="#88CDDA"/>
<rect x="1568" y="1355.1" width="257.5" height="36.4" fill="#1E5672"/>
<rect x="1825.5" y="1355.1" width="265.5" height="36.4" fill="#88CDDA"/>
<rect x="2091" y="1355.1" width="136.2" height="36.4" fill="#1E5672"/>
<text class="lb" text-anchor="end" x="252.3" y="1378.2" textLength="130.2" lengthAdjust="spacingAndGlyphs">Net Cash Flow</text>
<text class="vb" text-anchor="middle" transform="translate(321.2,1381.4) scale(1.016,1)">$5,739,545</text>
<text class="vb" text-anchor="middle" transform="translate(451.9,1381.4) scale(1.016,1)">$350,007</text>
<text class="vb" text-anchor="middle" transform="translate(582.7,1381.4) scale(1.016,1)">$11,975,106</text>
<text class="vb" text-anchor="middle" transform="translate(713.5,1381.4) scale(1.016,1)">$8,566,829</text>
<text class="vb" text-anchor="middle" transform="translate(844.2,1381.4) scale(1.016,1)" style="fill:#B5313A">($7,584,225)</text>
<text class="vb" text-anchor="middle" transform="translate(975.0,1381.4) scale(1.016,1)" style="fill:#B5313A">($4,478,098)</text>
<text class="vb" text-anchor="middle" transform="translate(1105.7,1381.4) scale(1.016,1)" style="fill:#B5313A">($6,662,904)</text>
<text class="vb" text-anchor="middle" transform="translate(1236.5,1381.4) scale(1.016,1)" style="fill:#B5313A">($5,904,843)</text>
<text class="vb" text-anchor="middle" transform="translate(1367.2,1381.4) scale(1.016,1)" style="fill:#B5313A">($4,646,108)</text>
<text class="vb" text-anchor="middle" transform="translate(1498.0,1381.4) scale(1.016,1)" style="fill:#B5313A">($6,215,710)</text>
<text class="vb" text-anchor="middle" transform="translate(1628.7,1381.4) scale(1.016,1)" style="fill:#B5313A">($1,699,464)</text>
<text class="vb" text-anchor="middle" transform="translate(1759.5,1381.4) scale(1.016,1)" style="fill:#fff">$16,385,329</text>
<text class="vb" text-anchor="middle" transform="translate(2019.0,1381.4) scale(1.016,1)" style="fill:#B5313A">($8,860,402)</text>
<text class="vb" text-anchor="middle" transform="translate(2160.0,1381.4) scale(1.016,1)" style="fill:#fff">$5,825,463</text>
<rect x="261.0" y="1431.0" width="1968.3000000000002" height="41.200000000000045" fill="#231F20"/>
<rect x="263.1" y="1433.1" width="1304.9" height="37.0" fill="#88CDDA"/>
<rect x="1568" y="1433.1" width="257.5" height="37.0" fill="#1E5672"/>
<rect x="1825.5" y="1433.1" width="265.5" height="37.0" fill="#88CDDA"/>
<rect x="2091" y="1433.1" width="136.2" height="37.0" fill="#1E5672"/>
<text class="lb" text-anchor="end" x="252.3" y="1456.0" textLength="191.8" lengthAdjust="spacingAndGlyphs">Ending Cash Balance</text>
<text class="vb" text-anchor="middle" transform="translate(321.2,1459.6) scale(1.016,1)">$48,653,674</text>
<text class="vb" text-anchor="middle" transform="translate(451.9,1459.6) scale(1.016,1)">$49,003,681</text>
<text class="vb" text-anchor="middle" transform="translate(582.7,1459.6) scale(1.016,1)">$60,978,786</text>
<text class="vb" text-anchor="middle" transform="translate(713.5,1459.6) scale(1.016,1)">$69,545,615</text>
<text class="vb" text-anchor="middle" transform="translate(844.2,1459.6) scale(1.016,1)">$61,961,390</text>
<text class="vb" text-anchor="middle" transform="translate(975.0,1459.6) scale(1.016,1)">$57,483,292</text>
<text class="vb" text-anchor="middle" transform="translate(1105.7,1459.6) scale(1.016,1)">$50,820,388</text>
<text class="vb" text-anchor="middle" transform="translate(1236.5,1459.6) scale(1.016,1)">$44,915,545</text>
<text class="vb" text-anchor="middle" transform="translate(1367.2,1459.6) scale(1.016,1)">$40,269,437</text>
<text class="vb" text-anchor="middle" transform="translate(1498.0,1459.6) scale(1.016,1)">$34,053,727</text>
<text class="vb" text-anchor="middle" transform="translate(1628.7,1459.6) scale(1.016,1)" style="fill:#fff">$32,354,263</text>
<text class="vb" text-anchor="middle" transform="translate(1759.5,1459.6) scale(1.016,1)" style="fill:#fff">$48,739,592</text>
<text class="vb" text-anchor="middle" transform="translate(2019.0,1459.6) scale(1.016,1)">$34,053,727</text>
<text class="vb" text-anchor="middle" transform="translate(2160.0,1459.6) scale(1.016,1)" style="fill:#fff">$48,739,592</text>
</g>
<g id="chart-monthly">
<line x1="178.3" y1="1634.1" x2="1151.3" y2="1634.1" stroke="#808285" stroke-width="2"/>
<line x1="178.3" y1="1684.5" x2="1151.3" y2="1684.5" stroke="#808285" stroke-width="2"/>
<line x1="178.3" y1="1734.8" x2="1151.3" y2="1734.8" stroke="#808285" stroke-width="2"/>
<line x1="178.3" y1="1785.2" x2="1151.3" y2="1785.2" stroke="#808285" stroke-width="2"/>
<line x1="178.3" y1="1835.5" x2="1151.3" y2="1835.5" stroke="#808285" stroke-width="2"/>
<line x1="178.3" y1="1885.9" x2="1151.3" y2="1885.9" stroke="#808285" stroke-width="2"/>
<line x1="178.3" y1="1936.3" x2="1151.3" y2="1936.3" stroke="#808285" stroke-width="2"/>
<line x1="178.3" y1="1986.6" x2="1151.3" y2="1986.6" stroke="#808285" stroke-width="2"/>
<line x1="178.3" y1="2037.0" x2="1151.3" y2="2037.0" stroke="#808285" stroke-width="2"/>
<line x1="179.3" y1="1634.1" x2="179.3" y2="2037.0" stroke="#808285" stroke-width="2"/>
<line x1="1150.3" y1="1634.1" x2="1150.3" y2="2037.0" stroke="#808285" stroke-width="2"/>
<polygon points="179.3,2038.0 179.3,1941.1 267.6,2003.3 355.8,1839.4 444.1,1877.8 532.4,2018.0 620.6,2024.5 708.9,2028.4 797.2,2018.9 885.5,2025.4 973.7,2026.9 1062.0,1974.5 1150.3,1687.5 1150.3,2038.0" fill="rgb(161,52,42)" fill-opacity="0.67"/>
<polygon points="179.3,2038.0 179.3,1996.8 267.6,2009.4 355.8,1957.3 444.1,1969.3 532.4,1943.0 620.6,1980.2 708.9,1962.7 797.2,1970.7 885.5,1979.0 973.7,1965.7 1062.0,1950.6 1072.0,1939.6 1150.3,1871.0 1150.3,2038.0" fill="rgb(48,87,116)" fill-opacity="0.82"/>
<rect x="203.2" y="1561" width="30.2" height="30.3" fill="#A12E37"/>
<rect x="496" y="1562" width="28.6" height="28.6" fill="#1E5672"/>
<text class="lg1" text-anchor="start" transform="translate(254.3,1584.4) scale(0.885,1)">Monthly Revenue</text>
<text class="lg1" text-anchor="start" transform="translate(546.6,1584.4) scale(0.885,1)">Monthly Expense</text>
<text class="y1" text-anchor="end" transform="translate(162.4,1647.9) scale(0.976,1)">$40</text>
<text class="y1" text-anchor="end" transform="translate(162.4,1698.3) scale(0.976,1)">$35</text>
<text class="y1" text-anchor="end" transform="translate(162.4,1748.6) scale(0.976,1)">$30</text>
<text class="y1" text-anchor="end" transform="translate(162.4,1799.0) scale(0.976,1)">$25</text>
<text class="y1" text-anchor="end" transform="translate(162.4,1849.3) scale(0.976,1)">$20</text>
<text class="y1" text-anchor="end" transform="translate(162.4,1899.7) scale(0.976,1)">$15</text>
<text class="y1" text-anchor="end" transform="translate(162.4,1950.1) scale(0.976,1)">$10</text>
<text class="y1" text-anchor="end" transform="translate(162.4,2000.4) scale(0.976,1)">$5</text>
<text class="y1" text-anchor="end" transform="translate(162.4,2050.8) scale(0.976,1)">$0</text>
<text class="mil1" text-anchor="end" transform="translate(90.3,1636.4) rotate(-90) scale(1.015,1)">Millions</text>
<text class="xl" text-anchor="end" transform="translate(192.3,2064.2) rotate(-45) scale(1.0,1)">July</text>
<text class="xl" text-anchor="end" transform="translate(284.7,2060.7) rotate(-45) scale(1.0,1)">August</text>
<text class="xl" text-anchor="end" transform="translate(371.8,2058.3) rotate(-45) scale(1.0,1)">September</text>
<text class="xl" text-anchor="end" transform="translate(457.7,2060.7) rotate(-45) scale(1.0,1)">October</text>
<text class="xl" text-anchor="end" transform="translate(543.6,2062.4) rotate(-45) scale(1.0,1)">November</text>
<text class="xl" text-anchor="end" transform="translate(634.2,2060.7) rotate(-45) scale(1.0,1)">December</text>
<text class="xl" text-anchor="end" transform="translate(721.3,2064.2) rotate(-45) scale(1.0,1)">January</text>
<text class="xl" text-anchor="end" transform="translate(807.2,2064.2) rotate(-45) scale(1.0,1)">February</text>
<text class="xl" text-anchor="end" transform="translate(897.8,2060.7) rotate(-45) scale(1.0,1)">March</text>
<text class="xl" text-anchor="end" transform="translate(984.9,2058.3) rotate(-45) scale(1.0,1)">April</text>
<text class="xl" text-anchor="end" transform="translate(1072.6,2060.7) rotate(-45) scale(1.0,1)">May</text>
<text class="xl" text-anchor="end" transform="translate(1159.2,2059.7) rotate(-45) scale(1.0,1)">June</text>
</g>
<g id="chart-trend">
<polygon points="1303.2,2032.9 1303.2,1830.2 1386.2,1827.8 1469.3,1783.5 1552.3,1739.8 1635.4,1770.5 1718.4,1792.7 1801.4,1821.4 1884.5,1846.3 1967.5,1868.0 2050.6,1921.4 2133.6,1937.7 2216.6,1825.7 2216.6,2032.9" fill="#B15F57"/>
<line x1="1302.2" y1="1623.4" x2="2217.6" y2="1623.4" stroke="#231F20" stroke-width="2.1"/>
<line x1="1302.2" y1="1705.3" x2="2217.6" y2="1705.3" stroke="#231F20" stroke-width="2.1"/>
<line x1="1302.2" y1="1787.2" x2="2217.6" y2="1787.2" stroke="#231F20" stroke-width="2.1"/>
<line x1="1302.2" y1="1869.1" x2="2217.6" y2="1869.1" stroke="#231F20" stroke-width="2.1"/>
<line x1="1302.2" y1="1951.0" x2="2217.6" y2="1951.0" stroke="#231F20" stroke-width="2.1"/>
<line x1="1302.2" y1="2032.9" x2="2217.6" y2="2032.9" stroke="#231F20" stroke-width="2.1"/>
<line x1="1303.2" y1="1623.4" x2="1303.2" y2="2032.9" stroke="#231F20" stroke-width="2.1"/>
<line x1="1386.2" y1="1623.4" x2="1386.2" y2="2032.9" stroke="#231F20" stroke-width="2.1"/>
<line x1="1469.3" y1="1623.4" x2="1469.3" y2="2032.9" stroke="#231F20" stroke-width="2.1"/>
<line x1="1552.3" y1="1623.4" x2="1552.3" y2="2032.9" stroke="#231F20" stroke-width="2.1"/>
<line x1="1635.4" y1="1623.4" x2="1635.4" y2="2032.9" stroke="#231F20" stroke-width="2.1"/>
<line x1="1718.4" y1="1623.4" x2="1718.4" y2="2032.9" stroke="#231F20" stroke-width="2.1"/>
<line x1="1801.4" y1="1623.4" x2="1801.4" y2="2032.9" stroke="#231F20" stroke-width="2.1"/>
<line x1="1884.5" y1="1623.4" x2="1884.5" y2="2032.9" stroke="#231F20" stroke-width="2.1"/>
<line x1="1967.5" y1="1623.4" x2="1967.5" y2="2032.9" stroke="#231F20" stroke-width="2.1"/>
<line x1="2050.6" y1="1623.4" x2="2050.6" y2="2032.9" stroke="#231F20" stroke-width="2.1"/>
<line x1="2133.6" y1="1623.4" x2="2133.6" y2="2032.9" stroke="#231F20" stroke-width="2.1"/>
<line x1="2216.6" y1="1623.4" x2="2216.6" y2="2032.9" stroke="#231F20" stroke-width="2.1"/>
<polyline points="1303.2,2016.7 1386.2,2012.7 1469.3,1971.4 1552.3,1950.9 1635.4,1910.2 1718.4,1889.7 1801.4,1860.0 1884.5,1844.3 1967.5,1806.3 2050.6,1778.6 2133.6,1745.7 2216.6,1673.7" fill="none" stroke="#1B5470" stroke-width="6.5" stroke-linejoin="miter"/>
<polyline points="1303.2,1995.9 1386.2,1988.2 1469.3,1914.8 1552.3,1840.8 1635.4,1832.2 1718.4,1829.1 1801.4,1824.3 1884.5,1819.4 1967.5,1814.9 2050.6,1811.4 2133.6,1790.9 2216.6,1649.1" fill="none" stroke="#85CEDC" stroke-width="6.5" stroke-linejoin="miter"/>
<rect x="1319.3" y="1558.4" width="29.2" height="30" fill="#A12E37"/>
<rect x="1601.8" y="1559.3" width="27.3" height="28.2" fill="#1E5672"/>
<rect x="1884.0" y="1559.3" width="27.3" height="28.2" fill="#88CDDA"/>
<text class="lg2" text-anchor="start" transform="translate(1367.6,1581.3) scale(0.869,1)">Cash Balance</text>
<text class="lg2" text-anchor="start" transform="translate(1649.9,1581.3) scale(0.869,1)">Expense Trend</text>
<text class="lg2" text-anchor="start" transform="translate(1931.0,1581.3) scale(0.869,1)">Revenue Trend</text>
<text class="y2" text-anchor="end" transform="translate(1285.6,1637.4) scale(1.042,1)">100</text>
<text class="y2" text-anchor="end" transform="translate(1285.6,1719.3) scale(1.042,1)">80</text>
<text class="y2" text-anchor="end" transform="translate(1285.6,1801.2) scale(1.042,1)">60</text>
<text class="y2" text-anchor="end" transform="translate(1285.6,1883.1) scale(1.042,1)">40</text>
<text class="y2" text-anchor="end" transform="translate(1285.6,1965.0) scale(1.042,1)">20</text>
<text class="y2" text-anchor="end" transform="translate(1285.6,2046.9) scale(1.042,1)">0</text>
<text class="mil2" text-anchor="end" transform="translate(1211.3,1604.3) rotate(-90) scale(1.067,1)">Millions</text>
<text class="xl2" text-anchor="end" transform="translate(1312.5,2061.4) rotate(-45) scale(1.0,1)">July</text>
<text class="xl2" text-anchor="end" transform="translate(1408.5,2055.4) rotate(-45) scale(1.0,1)">August</text>
<text class="xl2" text-anchor="end" transform="translate(1506.3,2054.9) rotate(-45) scale(1.0,1)">September</text>
<text class="xl2" text-anchor="end" transform="translate(1579.1,2054.4) rotate(-45) scale(1.0,1)">October</text>
<text class="xl2" text-anchor="end" transform="translate(1669.7,2058.0) rotate(-45) scale(1.0,1)">November</text>
<text class="xl2" text-anchor="end" transform="translate(1752.5,2056.4) rotate(-45) scale(1.0,1)">December</text>
<text class="xl2" text-anchor="end" transform="translate(1823.5,2058.9) rotate(-45) scale(1.0,1)">January</text>
<text class="xl2" text-anchor="end" transform="translate(1910.6,2059.2) rotate(-45) scale(1.0,1)">February</text>
<text class="xl2" text-anchor="end" transform="translate(1984.7,2054.1) rotate(-45) scale(1.0,1)">March</text>
<text class="xl2" text-anchor="end" transform="translate(2061.7,2052.5) rotate(-45) scale(1.0,1)">April</text>
<text class="xl2" text-anchor="end" transform="translate(2141.9,2055.4) rotate(-45) scale(1.0,1)">May</text>
<text class="xl2" text-anchor="end" transform="translate(2227.6,2055.4) rotate(-45) scale(1.0,1)">June</text>
</g>
</svg>
</body></html>
